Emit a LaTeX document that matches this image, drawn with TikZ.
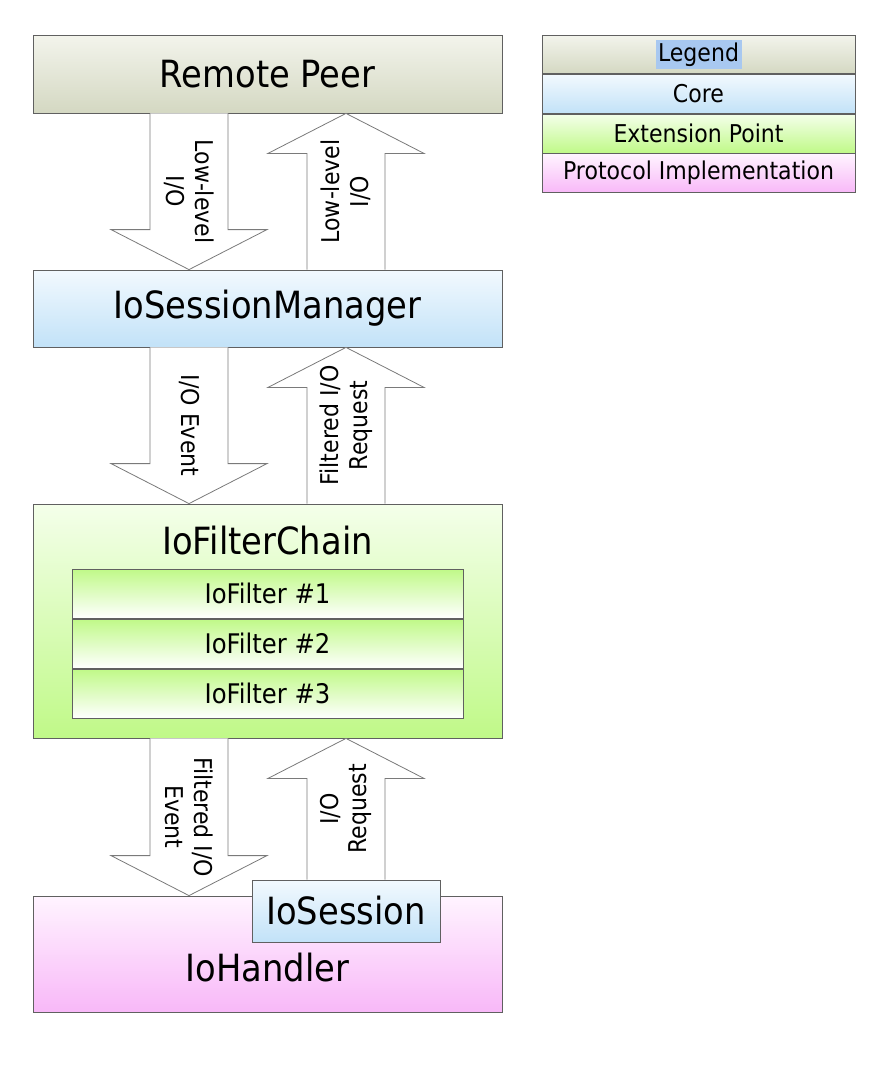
\documentclass[tikz,border=0pt]{standalone}
\usepackage{fontspec}
\setmainfont{DejaVu Sans}[FakeStretch=0.9]
\usetikzlibrary{positioning, calc}
\definecolor{peertop}{HTML}{F3F4EC}
\definecolor{peerbot}{HTML}{D4D8C2}
\definecolor{coretop}{HTML}{F2F9FE}
\definecolor{corebot}{HTML}{C2E2F8}
\definecolor{exttop}{HTML}{F4FFEA}
\definecolor{extbot}{HTML}{C0F988}
\definecolor{prottop}{HTML}{FFF4FF}
\definecolor{protbot}{HTML}{F8B8F8}
\definecolor{edge}{HTML}{606060}
\definecolor{arrowedge}{HTML}{7A7A7A}
\definecolor{selblue}{HTML}{A8C8F0}

% big hollow arrow from an upper box down to a lower box
\newcommand{\flowdown}[5]{%
  \coordinate (#4s) at (#3,0 |- #1.south);
  \coordinate (#4t) at (#3,0 |- #2.north);
  \draw[flowarrow] ($(#4s)+(-39,0)$) -- ($(#4t)+(-39,-40)$) -- ($(#4t)+(-78,-40)$)
    -- (#4t) -- ($(#4t)+(78,-40)$) -- ($(#4t)+(39,-40)$) -- ($(#4s)+(39,0)$);
  \node[flowlabel, rotate=-90] (#4) at ($(#4s)!0.5!(#4t)$) {#5};
}
% big hollow arrow from a lower box up to an upper box
\newcommand{\flowup}[5]{%
  \coordinate (#4s) at (#3,0 |- #1.north);
  \coordinate (#4t) at (#3,0 |- #2.south);
  \draw[flowarrow] ($(#4s)+(-39,0)$) -- ($(#4t)+(-39,40)$) -- ($(#4t)+(-78,40)$)
    -- (#4t) -- ($(#4t)+(78,40)$) -- ($(#4t)+(39,40)$) -- ($(#4s)+(39,0)$);
  \node[flowlabel, rotate=90] (#4) at ($(#4s)!0.5!(#4t)$) {#5};
}

\begin{document}
\begin{tikzpicture}[x=1pt, y=-1pt,
    block/.style={draw=edge, line width=0.8pt, minimum width=469pt, inner sep=0pt,
      font=\fontsize{37.5}{44}\selectfont},
    row/.style={draw=edge, line width=0.8pt, inner sep=0pt,
      font=\fontsize{24.5}{28}\selectfont},
    filterrow/.style={row, minimum width=391pt, minimum height=49.3pt,
      font=\fontsize{27}{30}\selectfont},
    bigtext/.style={inner sep=0pt, font=\fontsize{37.5}{44}\selectfont},
    peerfill/.style={top color=peertop, bottom color=peerbot},
    corefill/.style={top color=coretop, bottom color=corebot},
    extfill/.style={top color=exttop, bottom color=extbot},
    filterfill/.style={top color=extbot, bottom color=white},
    protfill/.style={top color=prottop, bottom color=protbot},
    flowarrow/.style={draw=arrowedge, fill=white, line width=0.8pt, line join=miter},
    flowlabel/.style={align=center, inner sep=0pt, font=\fontsize{24.5}{28.5}\selectfont}]
\useasboundingbox (0,0) rectangle (890,1080);

% main stack
\node[block, peerfill, minimum height=78pt] (peer) at (267.5,74) {Remote Peer};
\node[block, corefill, minimum height=77pt] (manager) at (267.5,308.5) {IoSessionManager};
\node[block, extfill, minimum height=234pt] (chain) at (267.5,621) {};
\node[bigtext] (chaintitle) at ($(chain.north)+(0,37)$) {IoFilterChain};
\node[filterrow, filterfill] (filter1) at (267.5,593.7) {IoFilter \#1};
\node[filterrow, filterfill, below=0pt of filter1] (filter2) {IoFilter \#2};
\node[filterrow, filterfill, below=0pt of filter2] (filter3) {IoFilter \#3};
\node[block, protfill, minimum height=116pt] (handler) at (267.5,954) {};
\node[bigtext] (handlertitle) at (267.5,968) {IoHandler};
\node[block, corefill, minimum width=188pt, minimum height=62pt] (session) at (346,911) {IoSession};

% flows between the layers
\flowdown{peer}{manager}{189}{lowin}{Low-level\\I/O}
\flowup{manager}{peer}{346}{lowout}{Low-level\\I/O}
\flowdown{manager}{chain}{189}{event}{I/O Event}
\flowup{chain}{manager}{346}{freq}{Filtered I/O\\Request}
\flowdown{chain}{handler}{189}{fevent}{Filtered I/O\\Event}
\flowup{session}{chain}{346}{req}{I/O\\Request}

% legend
\node[row, peerfill, minimum width=313pt, minimum height=38.8pt] (legend) at (698.5,54.4) {};
\node[inner sep=2.5pt, fill=selblue, font=\fontsize{24.5}{28}\selectfont] (legendtitle) at (legend) {Legend};
\node[row, corefill, minimum width=313pt, minimum height=38.8pt, below=0pt of legend] (core) {Core};
\node[row, extfill, minimum width=313pt, minimum height=38.8pt, below=0pt of core] (ext) {Extension Point};
\node[row, protfill, minimum width=313pt, minimum height=38.8pt, below=0pt of ext] (prot) {Protocol Implementation};
\end{tikzpicture}
\end{document}
